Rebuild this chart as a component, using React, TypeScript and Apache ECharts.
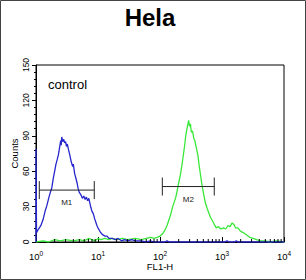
import React, { useEffect, useRef } from "react";
import * as echarts from "echarts";

const chartTitle = "Hela";
const sampleLabel = "control";
const xAxisName = "FL1-H";
const yAxisName = "Counts";
const yMin = 0;
const yMax = 150;
const yInterval = 30;
const xMin = 1;
const xMax = 10000;
const decades = [1, 10, 100, 1000];
const minorMultipliers = [2, 3, 4, 5, 6, 7, 8, 9];

// control (blue) histogram: [FL1-H, counts]
const controlHistogram: [number, number][] = [
  [1, 0], [1, 79], [1.02, 8], [1.1, 11], [1.2, 14], [1.3, 19], [1.4, 26], [1.5, 31],
  [1.6, 37], [1.7, 42], [1.8, 46], [1.9, 54], [2.0, 60], [2.1, 66], [2.2, 70],
  [2.3, 74], [2.4, 80], [2.5, 86], [2.55, 82], [2.6, 89], [2.7, 85], [2.8, 87],
  [2.9, 84], [3.0, 85], [3.1, 81], [3.2, 83], [3.35, 78], [3.5, 74], [3.7, 68],
  [3.9, 64], [4.0, 66], [4.2, 58], [4.4, 54], [4.6, 50], [4.8, 45], [5.0, 42],
  [5.3, 40], [5.6, 37], [5.9, 39], [6.2, 36], [6.5, 38], [6.8, 35], [7.1, 37],
  [7.4, 33], [7.7, 29], [8.0, 26], [8.4, 24], [8.8, 20], [9.2, 17], [9.6, 14],
  [10, 12], [10.5, 10], [11, 8], [12, 6], [13, 5], [14, 5], [15, 3], [17, 3],
  [19, 2], [21, 3], [24, 1], [27, 2], [30, 1], [35, 2], [40, 1], [50, 1], [60, 0],
  [70, 1], [80, 0], [120, 0], [130, 1], [140, 0], [1100, 0], [1200, 1], [1300, 0],
  [1600, 0], [1700, 1], [1800, 0], [10000, 0],
];

// Hela (green) histogram: [FL1-H, counts]
const helaHistogram: [number, number][] = [
  [1, 0], [1.3, 1], [1.6, 0], [2, 2], [2.5, 1], [3, 2], [4, 1], [5, 2], [6, 1],
  [7, 3], [8, 2], [9, 1], [10, 3], [11, 2], [13, 3], [15, 2], [17, 3], [20, 2],
  [25, 3], [30, 2], [40, 3], [50, 2], [60, 3], [70, 4], [80, 3], [90, 4], [100, 5],
  [110, 7], [120, 10], [130, 14], [140, 19], [150, 24], [160, 30], [170, 34],
  [180, 38], [190, 44], [200, 50], [215, 58], [230, 68], [240, 75], [250, 82],
  [260, 90], [270, 95], [280, 99], [290, 103], [300, 98], [310, 100], [320, 93],
  [335, 94], [350, 88], [365, 86], [385, 80], [410, 73], [430, 64], [450, 57],
  [470, 50], [500, 42], [540, 33], [580, 28], [620, 24], [650, 21], [700, 18],
  [750, 15], [810, 12], [880, 13], [950, 11], [1050, 12], [1150, 11], [1250, 14],
  [1350, 13], [1450, 16], [1550, 15], [1650, 12], [1800, 12], [2000, 9], [2200, 8],
  [2500, 6], [2800, 4], [3200, 3], [3600, 2], [4200, 1], [5000, 1], [6000, 0],
  [7500, 1], [10000, 0],
];

const gateNames = ["M1", "M2"];
const gateFrom = [1.13, 109];
const gateTo = [8.7, 750];
const gateLevel = [44, 47];

const blue = "#2626cc";
const green = "#38e838";
const font = "'Liberation Sans', Arial, sans-serif";

export default function App() {
  const ref = useRef<HTMLDivElement>(null);
  useEffect(() => {
    if (!ref.current) return;
    const chart = echarts.init(ref.current, undefined, { renderer: "svg" });

    const minorTicks: [number, number][] = [];
    decades.forEach((d) => minorMultipliers.forEach((m) => minorTicks.push([d * m, 0])));

    chart.setOption({
      animation: false,
      backgroundColor: "#fff",
      textStyle: { fontFamily: font },
      grid: {
        left: 36, right: 22, top: 65, bottom: 38,
        containLabel: false,
        outerBoundsMode: "none",
        show: true, borderColor: "#000", borderWidth: 1,
      },
      xAxis: {
        type: "log",
        logBase: 10,
        min: xMin,
        max: xMax,
        name: xAxisName,
        nameLocation: "middle",
        nameGap: 19,
        nameMoveOverlap: false,
        nameTextStyle: { fontSize: 9.5, color: "#000", fontFamily: font },
        axisLine: { show: true, lineStyle: { color: "#000", width: 1 } },
        axisTick: { show: true, inside: true, length: 5, lineStyle: { color: "#000" } },
        splitLine: { show: false },
        minorTick: { show: false },
        axisLabel: {
          margin: 8,
          color: "#000",
          formatter: (v: number) => `{b|10}{s|${Math.round(Math.log10(v))}}`,
          rich: {
            b: { fontSize: 9.5, lineHeight: 12, fontFamily: font, color: "#000" },
            s: { fontSize: 6.5, lineHeight: 7, verticalAlign: "top", fontFamily: font, color: "#000" },
          },
        },
      },
      yAxis: {
        type: "value",
        min: yMin,
        max: yMax,
        interval: yInterval,
        name: yAxisName,
        nameLocation: "middle",
        nameGap: 17,
        nameMoveOverlap: false,
        nameTextStyle: { fontSize: 9.5, color: "#000", fontFamily: font },
        axisLine: { show: true, lineStyle: { color: "#000", width: 1 } },
        axisTick: { show: true, length: 4, lineStyle: { color: "#000" } },
        minorTick: { show: true, splitNumber: 5, length: 2, lineStyle: { color: "#000" } },
        splitLine: { show: false },
        axisLabel: { rotate: 90, fontSize: 8.5, margin: 6, color: "#000", fontFamily: font },
      },
      graphic: [
        {
          type: "rect",
          shape: { x: 0.5, y: 0.5, width: 305, height: 279 },
          style: { fill: "none", stroke: "#444", lineWidth: 1 },
          silent: true,
        },
        {
          type: "text",
          x: 150,
          y: 17,
          style: {
            text: chartTitle, fontSize: 24, fontWeight: "bold", fontFamily: font,
            fill: "#000", align: "center", verticalAlign: "middle",
          },
        },
        {
          type: "text",
          x: 48,
          y: 84,
          style: {
            text: sampleLabel, fontSize: 13, fontFamily: font,
            fill: "#000", align: "left", verticalAlign: "middle",
          },
        },
      ],
      series: [
        {
          type: "line",
          data: helaHistogram,
          showSymbol: false,
          symbol: "none",
          lineStyle: { color: green, width: 1.3 },
          z: 2,
        },
        {
          type: "line",
          data: controlHistogram,
          showSymbol: false,
          symbol: "none",
          lineStyle: { color: blue, width: 1.3 },
          z: 3,
        },
        {
          type: "custom",
          data: minorTicks,
          encode: { x: 0, y: 1 },
          z: 4,
          silent: true,
          renderItem: (_p: any, api: any) => {
            const pt = api.coord([api.value(0), 0]);
            return {
              type: "line",
              shape: { x1: pt[0], y1: pt[1], x2: pt[0], y2: pt[1] - 3 },
              style: { stroke: "#000", lineWidth: 1 },
            };
          },
        },
        {
          type: "custom",
          data: gateNames.map((_, i) => [gateFrom[i], gateTo[i], gateLevel[i]]),
          encode: { x: [0, 1], y: 2 },
          z: 5,
          silent: true,
          renderItem: (params: any, api: any) => {
            const a = api.coord([api.value(0), api.value(2)]);
            const b = api.coord([api.value(1), api.value(2)]);
            const stroke = "#222";
            return {
              type: "group",
              children: [
                { type: "line", shape: { x1: a[0], y1: a[1], x2: b[0], y2: b[1] }, style: { stroke, lineWidth: 1 } },
                { type: "line", shape: { x1: a[0], y1: a[1] - 9, x2: a[0], y2: a[1] + 9 }, style: { stroke, lineWidth: 1 } },
                { type: "line", shape: { x1: b[0], y1: b[1] - 9, x2: b[0], y2: b[1] + 9 }, style: { stroke, lineWidth: 1 } },
                {
                  type: "text",
                  x: (a[0] + b[0]) / 2,
                  y: a[1] + 12.5,
                  style: {
                    text: gateNames[params.dataIndex], fontSize: 8, fontFamily: font,
                    fill: "#222", align: "center", verticalAlign: "middle",
                  },
                },
              ],
            };
          },
        },
      ],
    });
    return () => chart.dispose();
  }, []);
  return (
    <div
      ref={ref}
      style={{ position: "fixed", left: 0, top: 0, width: 306, height: 280, background: "#fff" }}
    />
  );
}
